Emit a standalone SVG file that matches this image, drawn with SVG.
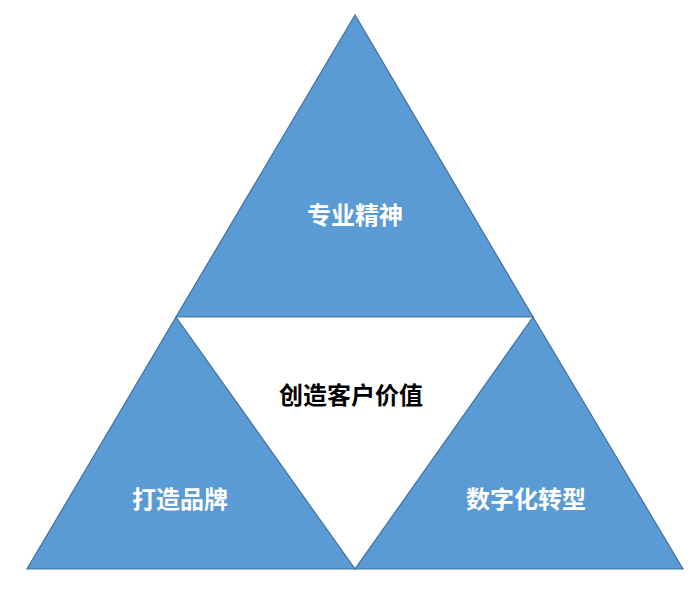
<svg xmlns="http://www.w3.org/2000/svg" width="693" height="590" viewBox="0 0 693 590">
<style>
.tri{fill:#5B9BD5;stroke:#41719C;stroke-width:1.2;stroke-linejoin:miter}
.lbl{font-family:"Noto Sans CJK SC","Noto Sans",sans-serif;font-size:24px;font-weight:bold;text-anchor:middle;dominant-baseline:central}
.w{fill:#FFFFFF}
.k{fill:#000000}
</style>
<rect width="693" height="590" fill="#FFFFFF"/>
<g id="top">
<polygon class="tri" points="355,15 176,317 533,317"/>
<text class="lbl w" x="355" y="213">专业精神</text>
</g>
<g id="left">
<polygon class="tri" points="176,317 27,569 355,569"/>
<text class="lbl w" x="180" y="497">打造品牌</text>
</g>
<g id="right">
<polygon class="tri" points="533,317 355,569 683,569"/>
<text class="lbl w" x="526" y="497">数字化转型</text>
</g>
<g id="center">
<text class="lbl k" x="351" y="393">创造客户价值</text>
</g>
<g id="connectors"></g>
</svg>
